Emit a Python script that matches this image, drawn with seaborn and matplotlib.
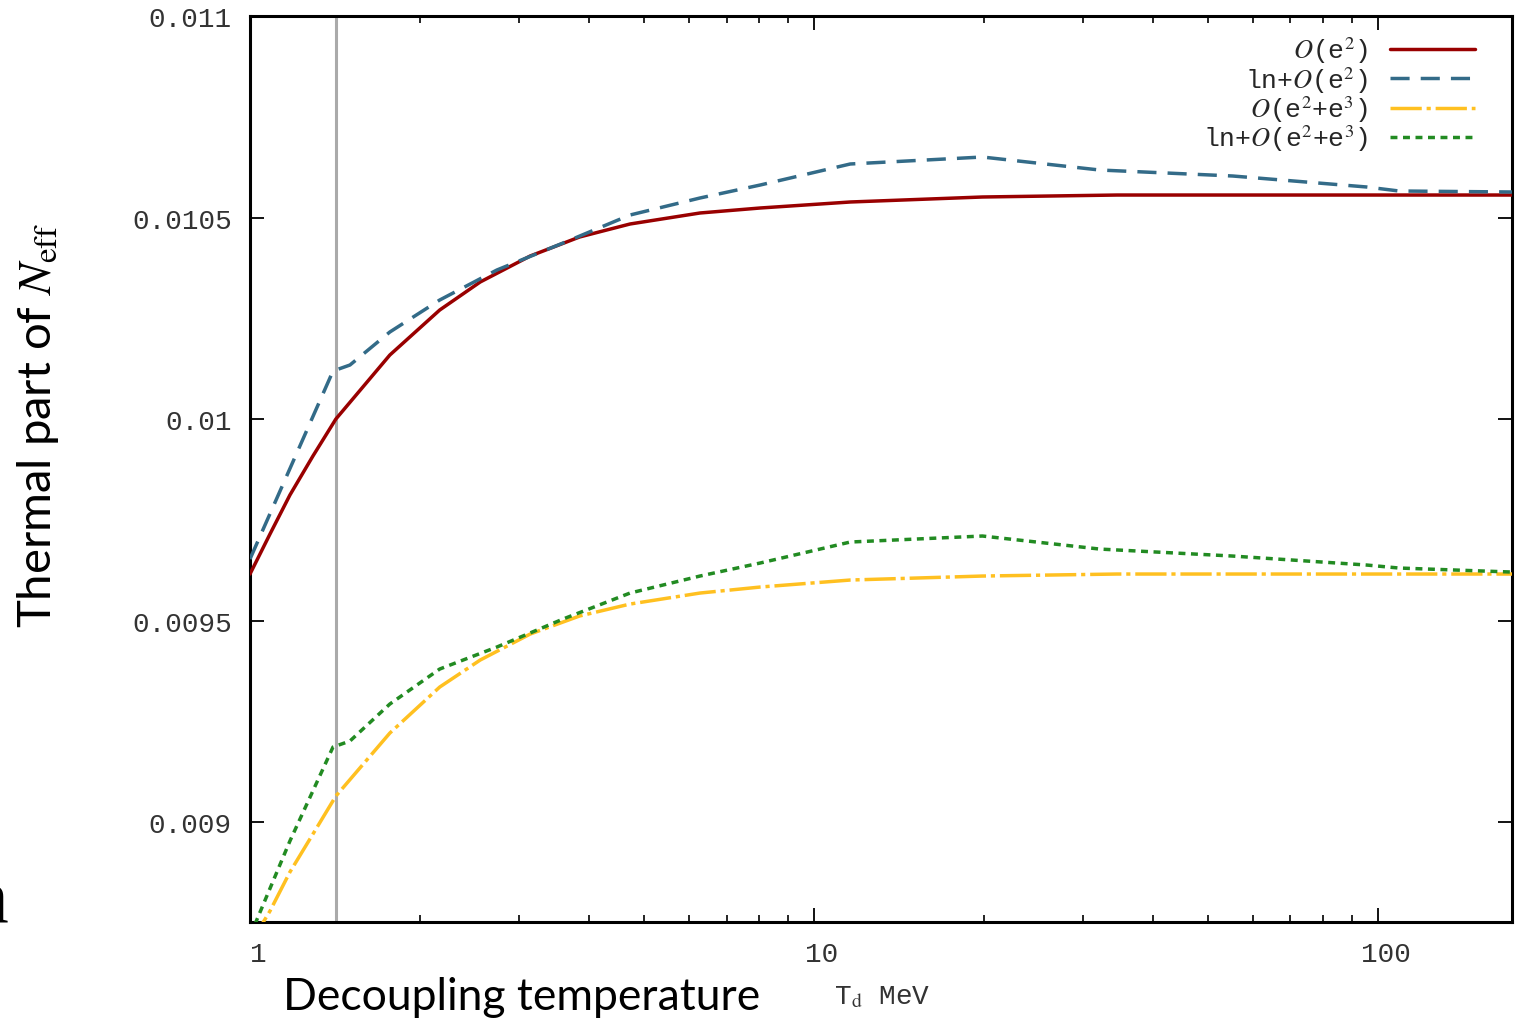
import numpy as np
import pandas as pd
import seaborn as sns
import matplotlib.pyplot as plt
import matplotlib.transforms as mtransforms
from matplotlib.ticker import FixedLocator, FuncFormatter, LogLocator, NullFormatter

# 数据：近似值
T_e2 = [1.0, 1.085, 1.177, 1.293, 1.42, 1.77, 2.17, 2.56, 3.14, 3.84, 4.72, 6.28, 8.03, 11.6, 19.9, 34.5, 173]
neff_e2 = [0.0096154, 0.0097146, 0.0098114, 0.0099082, 0.0100000, 0.0101588, 0.0102705, 0.0103400,
           0.0104045, 0.0104516, 0.0104839, 0.0105112, 0.0105236, 0.0105385, 0.0105509, 0.0105558, 0.0105558]

T_ln_e2 = [1.0, 1.4035, 1.504, 1.77, 2.17, 2.74, 3.59, 4.72, 6.28, 8.03, 11.6, 19.9, 32.1, 55.3, 95.6, 109, 173]
neff_ln_e2 = [0.0096526, 0.0101191, 0.0101340, 0.0102159, 0.0102953, 0.0103697, 0.0104367, 0.0105062,
              0.0105484, 0.0105806, 0.0106328, 0.0106501, 0.0106179, 0.0106030, 0.0105757, 0.0105658, 0.0105633]

T_e2e3 = [1.0, 1.085, 1.177, 1.293, 1.42, 1.77, 2.17, 2.56, 3.14, 3.84, 4.72, 6.28, 8.03, 11.6, 19.9, 34.5, 173]
neff_e2e3 = [0.0086973, 0.0087792, 0.0088759, 0.0089702, 0.0090645, 0.0092208, 0.0093350, 0.0094020,
             0.0094665, 0.0095112, 0.0095409, 0.0095682, 0.0095831, 0.0096005, 0.0096104, 0.0096154, 0.0096154]

T_ln_e2e3 = [1.0, 1.177, 1.4035, 1.504, 1.77, 2.17, 2.74, 3.59, 4.72, 6.28, 8.03, 11.6, 19.9, 32.1, 55.3, 95.6, 109, 173]
neff_ln_e2e3 = [0.0087171, 0.0089529, 0.0091861, 0.0092010, 0.0092928, 0.0093797, 0.0094342, 0.0095037,
                0.0095682, 0.0096104, 0.0096427, 0.0096948, 0.0097097, 0.0096774, 0.0096600, 0.0096377,
                0.0096303, 0.0096203]

labels = [r"$\mathit{O}$(e$^2$)", r"ln+$\mathit{O}$(e$^2$)",
          r"$\mathit{O}$(e$^2$+e$^3$)", r"ln+$\mathit{O}$(e$^2$+e$^3$)"]
T_mark = 1.42

sns.set_theme(style="ticks")
plt.rcParams['font.family'] = ['Liberation Mono', 'DejaVu Sans']
plt.rcParams['mathtext.fontset'] = 'stix'

fig = plt.figure(figsize=(15.16, 10.2), dpi=100)
ax = fig.add_axes([250 / 1516, 1 - 923 / 1020, 1262 / 1516, 906 / 1020])

ax.axvline(T_mark, color='#aaaaaa', lw=2.2, zorder=1)

series = [
    (T_e2, neff_e2, '#990000', '-'),
    (T_ln_e2, neff_ln_e2, '#336b88', (0, (5.5, 3.2))),
    (T_e2e3, neff_e2e3, '#ffc020', (0, (9, 1.4, 1.2, 1.4))),
    (T_ln_e2e3, neff_ln_e2e3, '#228b22', (0, (2.0, 1.6))),
]
for (x, y, c, ls), lab in zip(series, labels):
    d = pd.DataFrame({'T': x, 'N': y})
    sns.lineplot(data=d, x='T', y='N', ax=ax, color=c, lw=2.5, linestyle=ls, label=lab, zorder=3)

ax.set_xscale('log')
ax.set_xlim(1, 173)
ax.set_ylim(0.008752, 0.011)
ax.xaxis.set_major_locator(FixedLocator([1, 10, 100]))
ax.xaxis.set_major_formatter(FuncFormatter(lambda v, p: f"{v:g}"))
ax.xaxis.set_minor_locator(LogLocator(base=10, subs=np.arange(2, 10)))
ax.xaxis.set_minor_formatter(NullFormatter())
ax.yaxis.set_major_locator(FixedLocator([0.009, 0.0095, 0.01, 0.0105, 0.011]))
ax.yaxis.set_major_formatter(FuncFormatter(lambda v, p: f"{v:g}"))

ax.tick_params(which='both', direction='in', top=True, right=True, colors='black', labelcolor='#333333')
ax.tick_params(which='major', length=10, width=1.3, labelsize=20)
ax.tick_params(which='minor', length=5, width=1.2)
ax.tick_params(axis='y', pad=13)
ax.tick_params(axis='x', pad=14)
for lbl in ax.get_xticklabels():
    lbl.set_transform(lbl.get_transform() + mtransforms.ScaledTranslation(8 / 100, 0, fig.dpi_scale_trans))
for s in ax.spines.values():
    s.set_linewidth(2.2)
    s.set_color('black')
ax.set_xlabel('')
ax.set_ylabel('')

leg = ax.legend(loc='upper right', frameon=False, markerfirst=False, fontsize=19,
                handlelength=3.2, handletextpad=0.85, labelspacing=-0.05,
                borderaxespad=0.3, bbox_to_anchor=(0.985, 1.0))

fig.text(38 / 1516, 1 - 425 / 1020, r"Thermal part of $N_{\rm eff}$", family='Lato',
         fontsize=34, rotation=90, ha='center', va='center', color='black')
fig.text(522 / 1516, 1 - 998 / 1020, "Decoupling temperature", family='Lato',
         fontsize=32, ha='center', va='center', color='black')
fig.text(882 / 1516, 1 - 997 / 1020, r"T$_{\rm d}$ MeV", fontsize=20, ha='center', va='center',
         color='#333333')
fig.text(8 / 1516, 1 - 923 / 1020, "n", family='Liberation Serif', fontsize=56,
         ha='right', va='baseline', color='black')

fig.savefig('out.png', dpi=100)
